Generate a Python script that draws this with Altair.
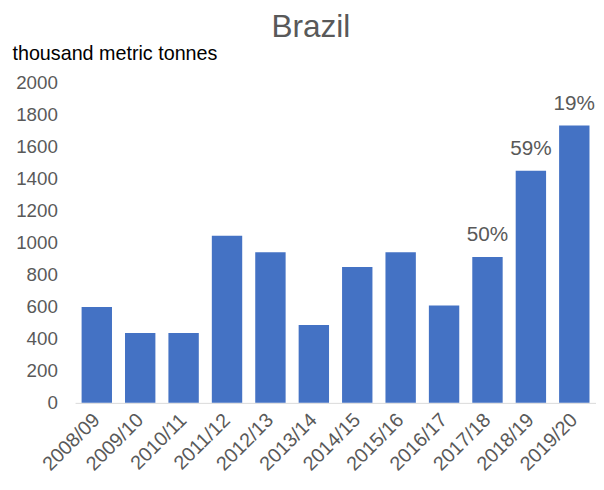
import altair as alt
import pandas as pd

years = ["2008/09", "2009/10", "2010/11", "2011/12", "2012/13", "2013/14",
         "2014/15", "2015/16", "2016/17", "2017/18", "2018/19", "2019/20"]
values = [598, 436, 436, 1043, 939, 485, 847, 939, 607, 910, 1448, 1730]
labels = ["", "", "", "", "", "", "", "", "", "50%", "59%", "19%"]

df = pd.DataFrame({"year": years, "value": values, "label": labels})

FONT = "Liberation Sans"
GRAY = "#595959"

x_enc = alt.X("year:N", sort=years,
              scale=alt.Scale(paddingInner=0.3, paddingOuter=0.15),
              axis=alt.Axis(title=None, labelAngle=-45, labelAlign="right",
                            labelBaseline="middle", labelFontSize=20,
                            labelColor=GRAY, labelFont=FONT, ticks=False,
                            domainColor="#d9d9d9", labelPadding=14,
                            labelOverlap=False))
y_enc = alt.Y("value:Q", scale=alt.Scale(domain=[0, 2000]),
              axis=alt.Axis(title="thousand metric tonnes", titleAngle=0,
                            titleAlign="left", titleBaseline="alphabetic",
                            titleX=-64, titleY=-23, titleFont=FONT,
                            titleFontSize=20, titleFontWeight="normal",
                            titleColor="#000000",
                            values=list(range(0, 2001, 200)), format="d",
                            labelOverlap=False,
                            labelFontSize=19, labelColor=GRAY, labelFont=FONT,
                            grid=False, domain=False, ticks=False,
                            labelPadding=18))

base = alt.Chart(df)

bars = base.mark_bar(color="#4472C4").encode(x=x_enc, y=y_enc)

text = base.mark_text(dy=-12, fontSize=21, color=GRAY, font=FONT,
                      baseline="bottom").encode(x=x_enc, y=y_enc,
                                                text="label:N")

chart = (bars + text).properties(
    width=528, height=325,
    padding={"left": 68, "top": 72, "right": 0, "bottom": 80},
    autosize=alt.AutoSizeParams(type="none"),
    title=alt.TitleParams("Brazil", font=FONT, fontSize=32, color=GRAY,
                          fontWeight="normal", anchor="middle", dx=-25,
                          offset=0),
).configure_view(stroke=None)

chart.save("out.html", embed_options={"renderer": "svg", "actions": False})
